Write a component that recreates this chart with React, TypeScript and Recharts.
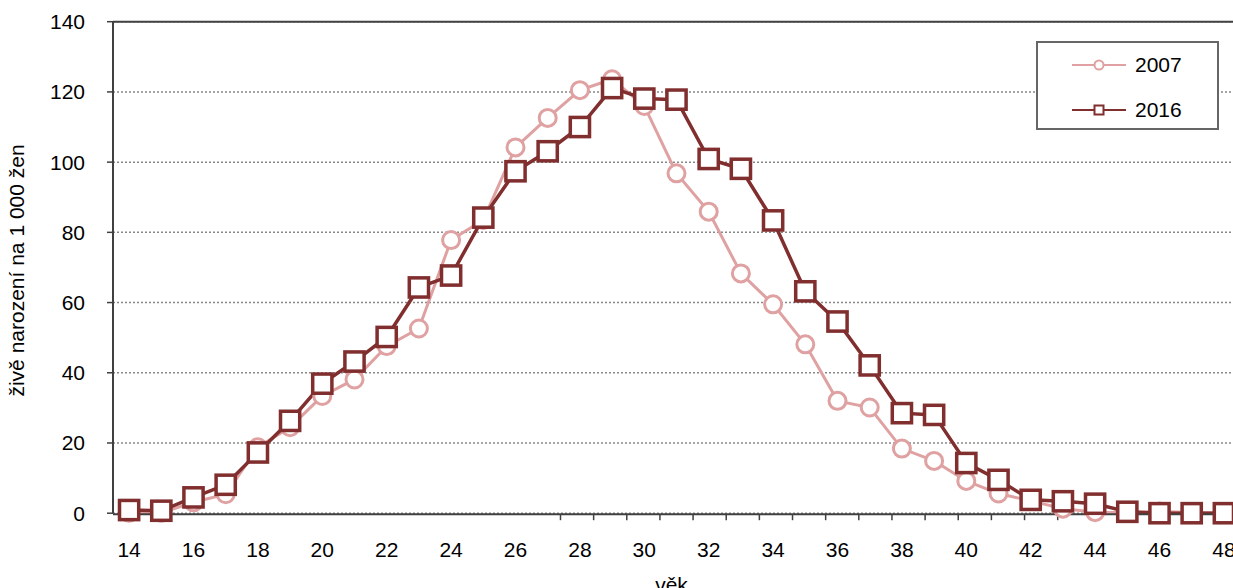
import React from 'react';
import {
  LineChart,
  Line,
  XAxis,
  YAxis,
  CartesianGrid,
  Legend,
  ReferenceLine,
  Label,
} from 'recharts';

const ages = [14, 15, 16, 17, 18, 19, 20, 21, 22, 23, 24, 25, 26, 27, 28, 29, 30, 31, 32, 33, 34, 35, 36, 37, 38, 39, 40, 41, 42, 43, 44, 45, 46, 47, 48];

const rate2007 = [0.1, 0.1, 3.1, 5.4, 18.8, 24.5, 33.4, 38.1, 47.6, 52.6, 77.8, 83.5, 104.2, 112.6, 120.5, 123.6, 116.0, 96.8, 85.9, 68.3, 59.5, 48.1, 32.0, 30.1, 18.4, 14.9, 9.2, 5.6, 3.5, 1.3, 0.3, 0.2, 0.5, 0.2, 0.1];

const rate2016 = [0.9, 0.7, 4.5, 8.1, 17.3, 26.3, 36.9, 43.2, 50.2, 64.3, 67.7, 84.2, 97.4, 103.1, 110.0, 121.1, 118.1, 117.8, 100.9, 98.1, 83.4, 63.2, 54.6, 42.1, 28.5, 28.0, 14.3, 9.5, 3.8, 3.4, 2.7, 0.4, 0, 0, 0];

const xLabelTicks = [14, 16, 18, 20, 22, 24, 26, 28, 30, 32, 34, 36, 38, 40, 42, 44, 46, 48];
const yTicks = [0, 20, 40, 60, 80, 100, 120, 140];
const seriesNames = ['2007', '2016'];

const data = ages.map((age, i) => ({ age, y2007: rate2007[i], y2016: rate2016[i] }));
const boundaryTicks = ages.map((a) => a - 0.5).concat([ages[ages.length - 1] + 0.5]);

const C07 = '#DFA1A1';
const C16 = '#802E2E';
const AXIS = '#404040';
const FONT = '"Liberation Sans", Arial, sans-serif';
const FS = 21;

const CircleDot = (props: any) => {
  const { cx, cy, index } = props;
  if (cx == null || cy == null) return null;
  return <circle key={`c${index}`} cx={cx} cy={cy} r={8.5} fill="#fff" stroke={C07} strokeWidth={3} />;
};

const SquareDot = (props: any) => {
  const { cx, cy, index } = props;
  if (cx == null || cy == null) return null;
  return (
    <rect key={`s${index}`} x={cx - 9.6} y={cy - 9.6} width={19.2} height={19.2} fill="#fff" stroke={C16} strokeWidth={3.5} />
  );
};

const LegendBox = () => (
  <div
    style={{
      width: 183,
      height: 89,
      boxSizing: 'border-box',
      border: '2px solid #666',
      background: '#fff',
      fontFamily: FONT,
      fontSize: FS,
      color: '#000',
      position: 'relative',
    }}
  >
    {seriesNames.map((name, i) => (
      <div key={name} style={{ position: 'absolute', left: 0, top: i === 0 ? 9 : 53.5, height: 26, width: '100%' }}>
        <svg width={60} height={26} style={{ position: 'absolute', left: 32, top: 0 }}>
          <line x1={2} y1={13} x2={56} y2={13} stroke={i === 0 ? C07 : C16} strokeWidth={2} />
          {i === 0 ? (
            <circle cx={29} cy={13} r={4.5} fill="#fff" stroke={C07} strokeWidth={2} />
          ) : (
            <rect x={24.5} y={8.5} width={9} height={9} fill="#fff" stroke={C16} strokeWidth={2} />
          )}
        </svg>
        <span style={{ position: 'absolute', left: 97, top: 1, lineHeight: '24px' }}>{name}</span>
      </div>
    ))}
  </div>
);

const YLabel = (props: any) => {
  const vb = props.viewBox || {};
  const cx = (vb.x || 0) + 17;
  const cy = (vb.y || 0) + (vb.height || 0) / 2 + 3;
  return (
    <text
      x={cx}
      y={cy}
      transform={`rotate(-90, ${cx}, ${cy})`}
      textAnchor="middle"
      dominantBaseline="central"
      fontFamily={FONT}
      fontSize={FS}
      fill="#000"
    >
      živě narození na 1 000 žen
    </text>
  );
};

export default function App() {
  return (
    <div style={{ position: 'absolute', left: 0, top: 0, width: 1233, height: 588, overflow: 'hidden', background: '#fff' }}>
      <LineChart width={1240} height={588} data={data} margin={{ top: 21.7, right: 0, left: 0, bottom: 72.8 }}>
        <CartesianGrid vertical={false} stroke="#888" strokeDasharray="2 2" strokeWidth={1.5} />
        <XAxis
          xAxisId="marks"
          type="number"
          domain={[13.5, 48.5]}
          ticks={boundaryTicks}
          interval={0}
          height={1}
          tickFormatter={() => ''}
          tickSize={6}
          axisLine={{ stroke: AXIS, strokeWidth: 2 }}
          tickLine={{ stroke: AXIS, strokeWidth: 1.5 }}
        />
        <XAxis
          dataKey="age"
          type="number"
          domain={[13.5, 48.5]}
          ticks={xLabelTicks}
          interval={0}
          height={1}
          axisLine={false}
          tickLine={false}
          tickSize={6}
          tickMargin={23}
          fontSize={FS}
          tick={{ fontFamily: FONT, fontSize: FS, fill: '#000' }}
        >
          <Label value="věk" position="bottom" offset={63} dx={-5} style={{ fontFamily: FONT, fontSize: FS, fill: '#000' }} />
        </XAxis>
        <YAxis
          type="number"
          domain={[0, 140]}
          ticks={yTicks}
          interval={0}
          width={113}
          tickSize={6}
          tickMargin={22}
          fontSize={FS}
          axisLine={{ stroke: AXIS, strokeWidth: 2 }}
          tickLine={{ stroke: AXIS, strokeWidth: 1.5 }}
          tick={{ fontFamily: FONT, fontSize: FS, fill: '#000' }}
        >
          <Label content={<YLabel />} />
        </YAxis>
        <ReferenceLine y={140} stroke={AXIS} strokeWidth={2} />
        <Legend
          layout="horizontal"
          verticalAlign="middle"
          align="center"
          content={<LegendBox />}
          wrapperStyle={{ position: 'absolute', left: 1036, top: 41, width: 183, height: 89 }}
        />
        <Line
          name="2007"
          dataKey="y2007"
          type="linear"
          stroke={C07}
          strokeWidth={3}
          dot={<CircleDot />}
          activeDot={false}
          isAnimationActive={false}
        />
        <Line
          name="2016"
          dataKey="y2016"
          type="linear"
          stroke={C16}
          strokeWidth={3.5}
          dot={<SquareDot />}
          activeDot={false}
          isAnimationActive={false}
        />
      </LineChart>
    </div>
  );
}
